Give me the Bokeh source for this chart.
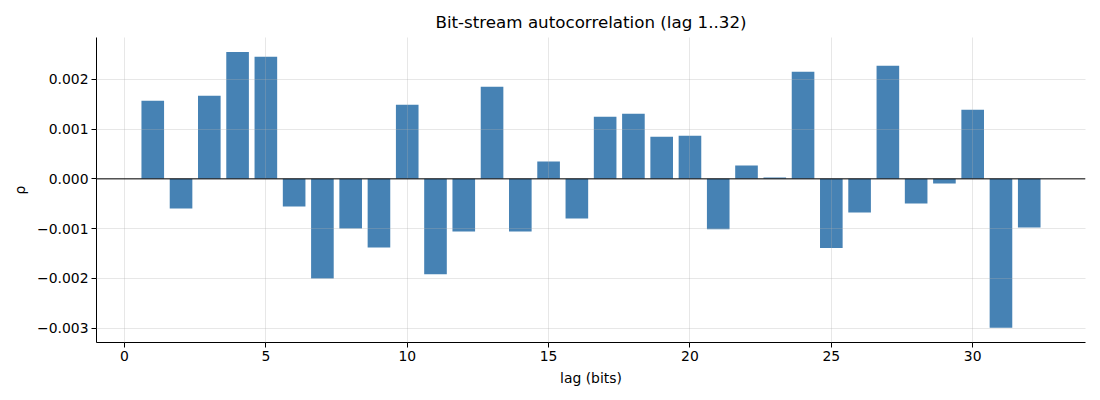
from bokeh.plotting import figure
from bokeh.models import ColumnDataSource, FixedTicker, Span, Range1d, CustomJSTickFormatter
from bokeh.embed import file_html
from bokeh.resources import INLINE

lags = list(range(1, 33))
rho = [0.00157, -0.000595, 0.00167, 0.00255, 0.00245, -0.000554, -0.00200, -0.000995,
       -0.001376, 0.00149, -0.001917, -0.001055, 0.00185, -0.001055, 0.000347, -0.000795,
       0.00125, 0.00131, 0.000848, 0.000868, -0.00101, 0.000267, 0.000027, 0.00215,
       -0.00139, -0.000675, 0.00227, -0.000494, -0.0000935, 0.00139, -0.00299, -0.000975]
x_ticks = [0, 5, 10, 15, 20, 25, 30]
y_ticks = [-0.003, -0.002, -0.001, 0.0, 0.001, 0.002]

FONT = "DejaVu Sans"

src = ColumnDataSource(dict(lag=lags, rho=rho))

p = figure(width=1092, height=392, output_backend="svg", toolbar_location=None,
           title="Bit-stream autocorrelation (lag 1..32)",
           x_range=Range1d(-0.99, 33.99), y_range=Range1d(-0.003286, 0.002839),
           min_border_left=96, min_border_right=7, min_border_top=37, min_border_bottom=50)

p.vbar(x="lag", top="rho", bottom=0, width=0.8, source=src,
       fill_color="#4682b4", line_color=None)

p.title.align = "center"
p.title.text_font = FONT
p.title.text_font_size = "16.7px"
p.title.text_font_style = "normal"
p.title.text_color = "black"
p.title.standoff = 11

p.outline_line_color = None
for ax in (p.xaxis[0], p.yaxis[0]):
    ax.axis_line_color = "black"
    ax.axis_line_width = 1
    ax.major_tick_out = 5
    ax.major_tick_in = 0
    ax.minor_tick_line_color = None
    ax.major_label_standoff = 3
    ax.major_label_text_font = FONT
    ax.major_label_text_font_size = "13.9px"
    ax.major_label_text_color = "black"
    ax.axis_label_text_font = FONT
    ax.axis_label_text_font_size = "13.9px"
    ax.axis_label_text_font_style = "normal"
    ax.axis_label_text_color = "black"
    ax.axis_label_standoff = 6

p.xaxis.ticker = FixedTicker(ticks=x_ticks)
p.yaxis.ticker = FixedTicker(ticks=y_ticks)
p.yaxis.formatter = CustomJSTickFormatter(code="return (tick < -1e-12 ? '\u2212' : '') + Math.abs(tick).toFixed(3);")
p.xaxis.axis_label = "lag (bits)"
p.yaxis.axis_label = "ρ"

for g in (p.xgrid[0], p.ygrid[0]):
    g.grid_line_color = "#b0b0b0"
    g.grid_line_alpha = 0.3
    g.level = "overlay"
p.xgrid.ticker = FixedTicker(ticks=x_ticks)
p.ygrid.ticker = FixedTicker(ticks=y_ticks)

zero = Span(location=0, dimension="width", line_color="black", line_width=1)
zero.level = "overlay"
p.add_layout(zero)

open("out.html", "w").write(file_html(p, INLINE))
